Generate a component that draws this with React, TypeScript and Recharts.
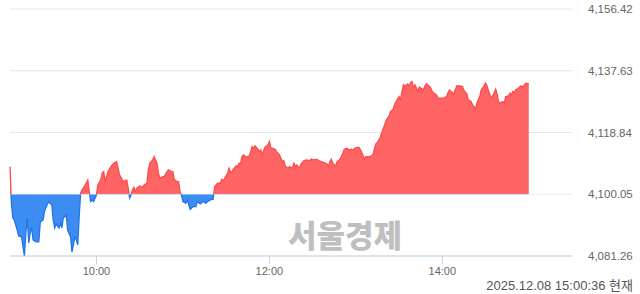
import React from 'react';
import { AreaChart, Area, XAxis, YAxis, CartesianGrid, ReferenceLine } from 'recharts';

// minutes since 09:00
const minutes = [
  0, 1, 2, 3, 5, 6, 8, 9, 10, 11, 12, 13, 14, 15, 16, 18, 20, 21, 23, 24, 26, 27, 29, 30, 31, 32, 34, 35, 36, 37, 39, 40,
  42, 43, 45, 46, 47, 48, 49, 50, 51, 53, 54, 55, 56, 57, 58, 59, 60, 61, 63, 64, 65, 66, 67, 68, 70, 72, 74, 75, 76, 78,
  79, 81, 82, 83, 84, 85, 86, 87, 88, 90, 92, 93, 95, 96, 97, 99, 100, 102, 103, 104, 106, 107, 109, 110, 112, 113, 114,
  116, 117, 118, 119, 120, 122, 123, 125, 127, 129, 130, 132, 134, 136, 137, 139, 141, 142, 144, 146, 147, 148, 150, 151,
  152, 153, 154, 155, 157, 158, 159, 160, 161, 162, 164, 165, 166, 167, 168, 169, 170, 172, 173, 174, 175, 176, 177, 179,
  180, 181, 182, 184, 185, 187, 188, 189, 190, 191, 193, 194, 196, 197, 198, 199, 201, 202, 204, 206, 208, 209, 211, 213,
  214, 216, 218, 220, 221, 222, 223, 224, 226, 227, 229, 231, 232, 234, 235, 237, 238, 239, 242, 243, 245, 246, 247, 249,
  251, 252, 253, 254, 255, 257, 258, 259, 261, 262, 263, 264, 266, 267, 268, 269, 270, 271, 272, 273, 274, 276, 277, 278,
  279, 280, 281, 282, 283, 284, 285, 287, 288, 289, 291, 292, 293, 294, 296, 297, 299, 301, 303, 304, 305, 306, 308, 309,
  310, 312, 314, 315, 317, 318, 320, 321, 322, 323, 324, 326, 327, 329, 330, 331, 332, 333, 334, 336, 337, 338, 339, 340,
  342, 343, 344, 346, 347, 348, 349, 350, 351, 352, 354, 355, 356, 357, 358, 360,
];

const values = [
  4108.46, 4097.0, 4092.83, 4092.22, 4089.18, 4087.35, 4087.1, 4084.09, 4081.26, 4088.26, 4092.83, 4085.22, 4088.26,
  4090.09, 4086.18, 4085.58, 4085.58, 4091.61, 4092.22, 4094.96, 4097.1, 4097.7, 4096.79, 4092.22, 4089.79, 4091.0,
  4089.79, 4091.31, 4089.79, 4092.83, 4093.75, 4089.18, 4087.06, 4082.47, 4087.06, 4086.18, 4084.64, 4093.15, 4100.4,
  4101.36, 4101.97, 4103.49, 4104.41, 4100.84, 4097.82, 4098.34, 4097.82, 4098.92, 4099.84, 4102.88, 4104.41, 4106.54,
  4106.93, 4103.89, 4105.41, 4106.93, 4108.46, 4109.49, 4109.98, 4107.97, 4105.93, 4104.41, 4103.89, 4104.41, 4101.97,
  4098.92, 4099.84, 4101.36, 4102.18, 4100.84, 4101.88, 4102.58, 4102.18, 4102.88, 4103.4, 4107.45, 4109.49, 4110.5,
  4111.5, 4109.49, 4106.45, 4104.92, 4105.41, 4105.41, 4106.93, 4107.45, 4106.93, 4106.93, 4104.41, 4103.89, 4103.89,
  4100.84, 4099.84, 4097.82, 4097.31, 4098.34, 4095.48, 4096.27, 4096.27, 4097.82, 4097.1, 4097.82, 4097.31, 4097.82,
  4098.34, 4098.53, 4102.36, 4103.4, 4103.4, 4104.62, 4104.19, 4105.62, 4106.45, 4107.97, 4106.63, 4106.93, 4107.67,
  4108.67, 4108.46, 4109.49, 4109.28, 4111.5, 4112.02, 4111.32, 4111.5, 4111.72, 4113.03, 4114.55, 4114.06, 4114.76,
  4113.76, 4113.03, 4113.54, 4112.02, 4113.33, 4114.37, 4115.07, 4116.07, 4114.06, 4114.06, 4113.76, 4113.03, 4112.02,
  4111.02, 4109.98, 4110.28, 4108.67, 4107.97, 4108.46, 4107.97, 4109.49, 4108.46, 4108.97, 4107.97, 4109.28, 4110.28,
  4110.5, 4110.28, 4110.8, 4110.5, 4110.71, 4110.28, 4109.98, 4109.68, 4109.28, 4108.46, 4109.98, 4110.71, 4109.49,
  4108.67, 4109.98, 4110.71, 4112.54, 4113.76, 4114.06, 4113.54, 4113.76, 4113.33, 4114.06, 4114.37, 4113.76, 4111.87,
  4110.71, 4111.56, 4111.41, 4111.72, 4112.33, 4113.91, 4115.46, 4115.83, 4117.35, 4118.87, 4120.0, 4122.38, 4123.29,
  4123.69, 4125.21, 4125.94, 4127.55, 4128.26, 4129.08, 4129.78, 4128.77, 4131.3, 4133.34, 4133.04, 4133.65, 4132.83,
  4134.04, 4134.35, 4132.34, 4133.34, 4132.34, 4131.3, 4132.64, 4132.34, 4131.82, 4133.04, 4133.65, 4132.83, 4132.34,
  4131.3, 4130.81, 4130.3, 4129.29, 4129.29, 4129.29, 4129.78, 4131.0, 4131.82, 4131.3, 4130.6, 4131.82, 4133.04,
  4133.04, 4132.83, 4131.61, 4130.6, 4128.77, 4128.26, 4127.25, 4126.73, 4125.94, 4127.77, 4129.78, 4131.82, 4133.04,
  4133.86, 4133.04, 4131.61, 4130.3, 4129.29, 4130.81, 4132.03, 4130.6, 4128.26, 4127.77, 4128.26, 4127.77, 4129.78,
  4129.99, 4130.81, 4130.3, 4131.3, 4131.0, 4131.82, 4132.03, 4132.83, 4133.04, 4132.64, 4133.34, 4133.86, 4133.65,
];

const baseValue = 4100.05;
const yTicks = [4081.26, 4100.05, 4118.84, 4137.63, 4156.42];
const xTicks = [60, 180, 300];
const xDomain = [0, 390];
const watermark = '서울경제';
const timestamp = '2025.12.08 15:00:36 현재';

const data = minutes.map((m, i) => ({ m, v: values[i] }));

const fmtTime = (m: number) => {
  const h = 9 + Math.floor(m / 60);
  const mm = m % 60;
  return `${h}:${mm < 10 ? '0' + mm : mm}`;
};
const fmtVal = (v: number) =>
  v.toLocaleString('en-US', { minimumFractionDigits: 2, maximumFractionDigits: 2 });

const font = '"Liberation Sans", Arial, sans-serif';

export default function App() {
  const max = Math.max(...values);
  const min = Math.min(...values);
  const off = (max - baseValue) / (max - min);
  return (
    <div style={{ position: 'absolute', left: 0, top: 0, width: 640, height: 294, background: '#fff', overflow: 'hidden' }}>
      <div
        style={{
          position: 'absolute',
          left: 288,
          top: 218,
          fontSize: 31,
          lineHeight: '31px',
          fontWeight: 900,
          color: '#bfbfbf',
          fontFamily: '"Noto Sans CJK KR", sans-serif',
          whiteSpace: 'nowrap',
        }}
      >
        {watermark}
      </div>
      <div style={{ position: 'absolute', left: 0, top: 0 }}>
        <AreaChart width={640} height={294} data={data} margin={{ top: 9, right: 0, bottom: 0, left: 10 }}>
          <defs>
            <linearGradient id="fillSplit" x1="0" y1="0" x2="0" y2="1">
              <stop offset={off} stopColor="#ff6464" />
              <stop offset={off} stopColor="#3d8cf2" />
            </linearGradient>
            <linearGradient id="strokeSplit" x1="0" y1="0" x2="0" y2="1">
              <stop offset={off} stopColor="#ff4a4a" />
              <stop offset={off} stopColor="#1f74ea" />
            </linearGradient>
          </defs>
          <CartesianGrid vertical={false} stroke="#e6e6e6" />
          <XAxis
            type="number"
            dataKey="m"
            domain={xDomain}
            ticks={xTicks}
            tickFormatter={fmtTime}
            height={38}
            stroke="#c9d3e6"
            tickSize={8}
            tickMargin={3}
            tick={{ fill: '#666', fontSize: 11, fontFamily: font }}
          />
          <YAxis
            orientation="right"
            domain={[yTicks[0], yTicks[yTicks.length - 1]]}
            ticks={yTicks}
            width={68}
            axisLine={false}
            tickLine={false}
            tickMargin={10}
            tickFormatter={fmtVal}
            tick={{ fill: '#666', fontSize: 11.5, fontFamily: font }}
          />
          <Area
            type="linear"
            dataKey="v"
            baseValue={baseValue}
            stroke="url(#strokeSplit)"
            strokeWidth={1.3}
            fill="url(#fillSplit)"
            fillOpacity={1}
            dot={false}
            activeDot={false}
            isAnimationActive={false}
          />
          <ReferenceLine y={baseValue} stroke="rgba(255,255,255,0.35)" />
        </AreaChart>
      </div>
      <div
        style={{
          position: 'absolute',
          right: 7,
          top: 278,
          fontSize: 13,
          lineHeight: '15px',
          color: '#555',
          fontFamily: '"Liberation Sans", "Noto Sans CJK KR", sans-serif',
          whiteSpace: 'nowrap',
        }}
      >
        {timestamp}
      </div>
    </div>
  );
}
